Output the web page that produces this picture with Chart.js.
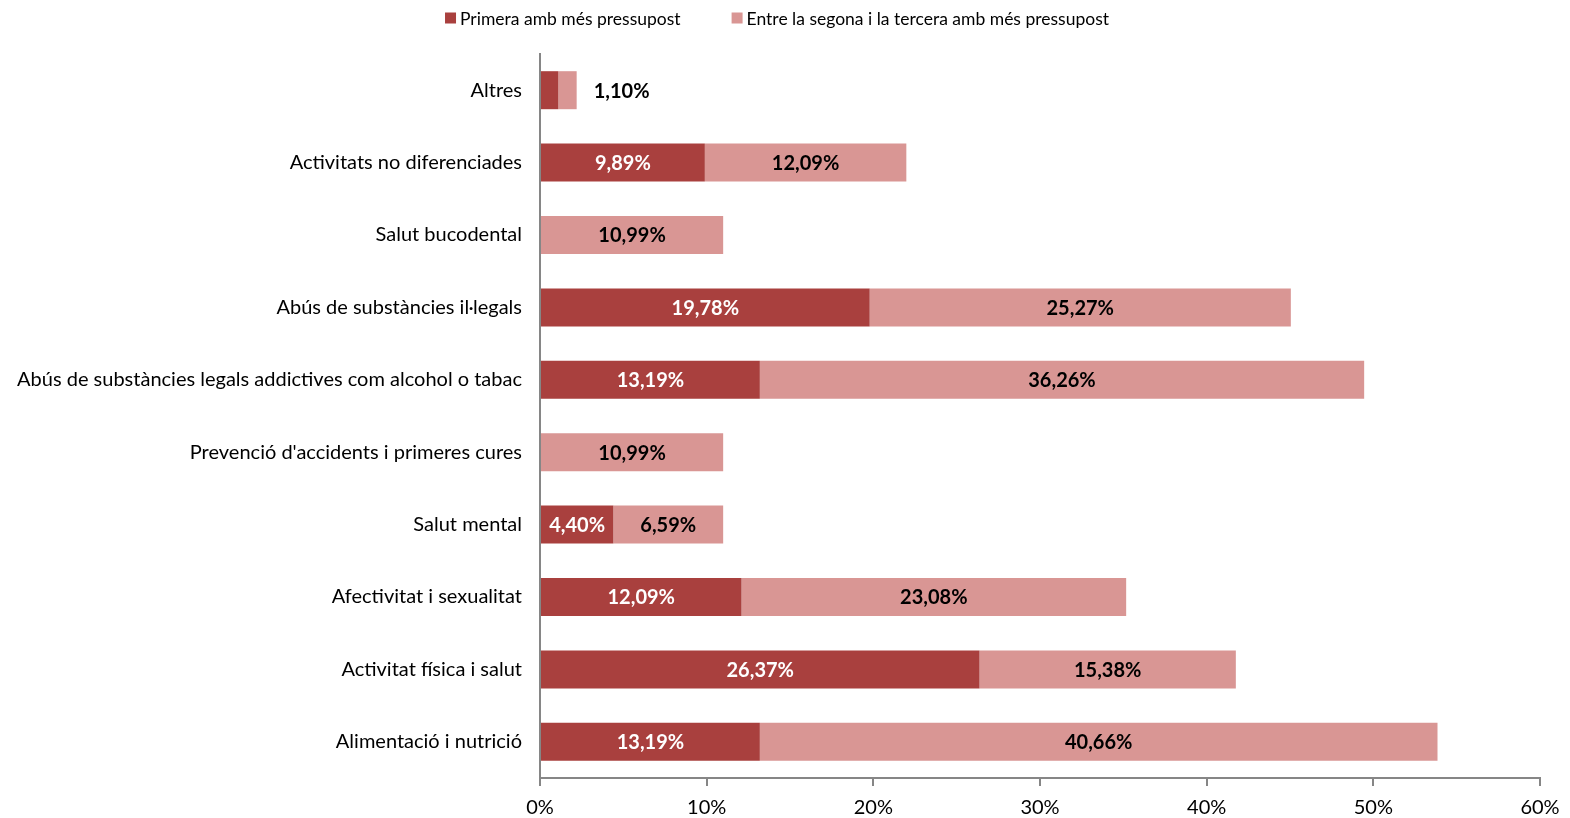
<!DOCTYPE html>
<html lang="ca">
<head>
    <meta charset="UTF-8">
    <title>Temes de salut per pressupost</title>
    <script src="https://cdn.jsdelivr.net/npm/chart.js"></script>
    <style>
        html, body {
            margin: 0;
            padding: 0;
            background: #ffffff;
        }
        .wrap {
            width: 1570px;
            height: 818px;
        }
    </style>
</head>
<body>
    <div class="wrap">
        <canvas id="pressupostChart" width="1570" height="818"></canvas>
    </div>

    <script>
        const categories = [
            "Altres",
            "Activitats no diferenciades",
            "Salut bucodental",
            "Abús de substàncies il·legals",
            "Abús de substàncies legals addictives com alcohol o tabac",
            "Prevenció d'accidents i primeres cures",
            "Salut mental",
            "Afectivitat i sexualitat",
            "Activitat física i salut",
            "Alimentació i nutrició"
        ];
        const primera = [1.10, 9.89, 0, 19.78, 13.19, 0, 4.40, 12.09, 26.37, 13.19];
        const segonaTercera = [1.10, 12.09, 10.99, 25.27, 36.26, 10.99, 6.59, 23.08, 15.38, 40.66];
        const seriesNames = ["Primera amb més pressupost", "Entre la segona i la tercera amb més pressupost"];

        const FONT = "Lato, 'Open Sans', sans-serif";
        const AXIS_GREY = "#868686";

        function pct(v) {
            return v.toFixed(2).replace(".", ",") + "%";
        }

        // value labels inside each segment; too narrow segments go outside (light) or are skipped (dark)
        const barLabels = {
            id: "barLabels",
            afterDatasetsDraw(chart) {
                const ctx = chart.ctx;
                ctx.save();
                ctx.font = "bold 20px " + FONT;
                ctx.textBaseline = "middle";
                chart.data.datasets.forEach((ds, di) => {
                    const meta = chart.getDatasetMeta(di);
                    meta.data.forEach((bar, i) => {
                        const v = ds.data[i];
                        if (!v) return;
                        const txt = pct(v);
                        const w = ctx.measureText(txt).width;
                        const left = Math.min(bar.x, bar.base);
                        const right = Math.max(bar.x, bar.base);
                        if (w + 4 > right - left) {
                            if (di === 0) return;
                            ctx.fillStyle = "#000";
                            ctx.textAlign = "left";
                            ctx.fillText(txt, right + 17, bar.y + 1);
                            return;
                        }
                        ctx.fillStyle = di === 0 ? "#ffffff" : "#000000";
                        ctx.textAlign = "center";
                        ctx.fillText(txt, (left + right) / 2, bar.y + 1);
                    });
                });
                ctx.restore();
            }
        };

        // legend row above the plot
        const topLegend = {
            id: "topLegend",
            afterDraw(chart) {
                const ctx = chart.ctx;
                const box = 11, gapText = 4, gapItem = 51, y = 18;
                ctx.save();
                ctx.font = "17.5px " + FONT;
                ctx.textBaseline = "middle";
                ctx.textAlign = "left";
                const items = chart.data.datasets.map(ds => ({
                    text: ds.label,
                    color: ds.backgroundColor,
                    w: ctx.measureText(ds.label).width
                }));
                const total = items.reduce((s, it) => s + box + gapText + it.w, 0) + gapItem * (items.length - 1);
                let x = (chart.width - total) / 2 - 8;
                items.forEach(it => {
                    ctx.fillStyle = it.color;
                    ctx.fillRect(x, y - box / 2, box, box);
                    ctx.fillStyle = "#000";
                    ctx.fillText(it.text, x + box + gapText, y + 1);
                    x += box + gapText + it.w + gapItem;
                });
                ctx.restore();
            }
        };

        new Chart(document.getElementById("pressupostChart"), {
            type: "bar",
            data: {
                labels: categories,
                datasets: [
                    { label: seriesNames[0], data: primera, backgroundColor: "#A9403E" },
                    { label: seriesNames[1], data: segonaTercera, backgroundColor: "#D99694" }
                ]
            },
            options: {
                indexAxis: "y",
                responsive: false,
                animation: false,
                devicePixelRatio: 1,
                datasets: {
                    bar: { barPercentage: 0.525, categoryPercentage: 1 }
                },
                layout: { padding: { top: 54, right: 30, bottom: 0, left: 0 } },
                plugins: {
                    tooltip: { enabled: false },
                    legend: { display: false }
                },
                scales: {
                    x: {
                        stacked: true,
                        min: 0,
                        max: 60,
                        afterFit: s => { s.height = 40; },
                        ticks: {
                            stepSize: 10,
                            callback: v => v + "%",
                            font: { family: FONT, size: 20 },
                            color: "#000",
                            padding: 10
                        },
                        grid: {
                            drawOnChartArea: false,
                            drawTicks: true,
                            tickLength: 8,
                            color: AXIS_GREY,
                            lineWidth: 2
                        },
                        border: { color: AXIS_GREY, width: 2 }
                    },
                    y: {
                        stacked: true,
                        afterFit: s => { s.width = 540; },
                        ticks: {
                            font: { family: FONT, size: 20 },
                            color: "#000",
                            padding: 18
                        },
                        grid: { display: false, drawTicks: false },
                        border: { color: AXIS_GREY, width: 2 }
                    }
                }
            },
            plugins: [barLabels, topLegend]
        });
    </script>
</body>
</html>
